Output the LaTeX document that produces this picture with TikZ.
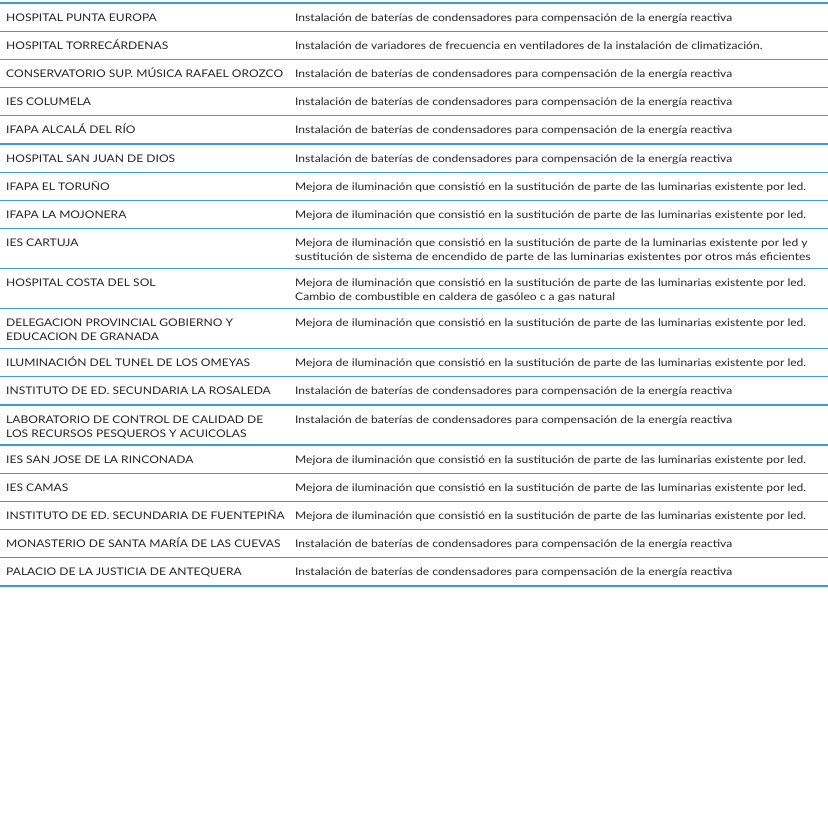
\documentclass[tikz,border=0pt]{standalone}
\usepackage{fontspec}
\setmainfont{Lato}[FakeStretch=1.15]
\definecolor{rule}{HTML}{3A9BD5}
\begin{document}
\begin{tikzpicture}[x=1pt,y=-1pt,
 ln/.style={draw=rule,line width=1.3pt},
 lc/.style={anchor=base west,inner sep=0,align=left,font=\fontsize{10.5}{14}\selectfont,text=black!85},
 rc/.style={anchor=base west,inner sep=0,align=left,font=\fontsize{10.5}{14}\selectfont,text=black!85}]
\useasboundingbox (0,0) rectangle (828,827);
\foreach \y [count=\i] in {3,31.2,59.4,87.6,115.8,144,172.2,200.4,228.6,268.6,308.6,348.6,376.8,405,445,473.2,501.4,529.6,557.8,586}
  {\coordinate (l\i) at (0,\y); \coordinate (r\i) at (828,\y); \draw[ln] (l\i) -- (r\i);}
% #1 id, #2 row top, #3 left offset, #4 left text, #5 right offset, #6 right text
\newcommand\rowx[6]{%
 \node[lc] (a#1) at (6,#2+#3) {#4};
 \node[rc] (b#1) at (295,#2+#5) {#6};}
\rowx{1}{3}{18}{HOSPITAL PUNTA EUROPA}{18}{Instalación de baterías de condensadores para compensación de la energía reactiva}
\rowx{2}{31.2}{18}{HOSPITAL TORRECÁRDENAS}{18}{Instalación de variadores de frecuencia en ventiladores de la instalación de climatización.}
\rowx{3}{59.4}{18}{CONSERVATORIO SUP. MÚSICA RAFAEL OROZCO}{18}{Instalación de baterías de condensadores para compensación de la energía reactiva}
\rowx{4}{87.6}{18}{IES COLUMELA}{18}{Instalación de baterías de condensadores para compensación de la energía reactiva}
\rowx{5}{115.8}{18}{IFAPA ALCALÁ DEL RÍO}{18}{Instalación de baterías de condensadores para compensación de la energía reactiva}
\rowx{6}{144}{18}{HOSPITAL SAN JUAN DE DIOS}{18}{Instalación de baterías de condensadores para compensación de la energía reactiva}
\rowx{7}{172.2}{18}{IFAPA EL TORUÑO}{18}{Mejora de iluminación que consistió en la sustitución de parte de las luminarias existente por led.}
\rowx{8}{200.4}{18}{IFAPA LA MOJONERA}{18}{Mejora de iluminación que consistió en la sustitución de parte de las luminarias existente por led.}
\rowx{9}{228.6}{18}{IES CARTUJA}{32}{Mejora de iluminación que consistió en la sustitución de parte de la luminarias existente por led y\\sustitución de sistema de encendido de parte de las luminarias existentes por otros más eficientes}
\rowx{10}{268.6}{18}{HOSPITAL COSTA DEL SOL}{32}{Mejora de iluminación que consistió en la sustitución de parte de las luminarias existente por led.\\Cambio de combustible en caldera de gasóleo c a gas natural}
\rowx{11}{308.6}{32}{DELEGACION PROVINCIAL GOBIERNO Y\\EDUCACION DE GRANADA}{18}{Mejora de iluminación que consistió en la sustitución de parte de las luminarias existente por led.}
\rowx{12}{348.6}{18}{ILUMINACIÓN DEL TUNEL DE LOS OMEYAS}{18}{Mejora de iluminación que consistió en la sustitución de parte de las luminarias existente por led.}
\rowx{13}{376.8}{18}{INSTITUTO DE ED. SECUNDARIA LA ROSALEDA}{18}{Instalación de baterías de condensadores para compensación de la energía reactiva}
\rowx{14}{405}{32}{LABORATORIO DE CONTROL DE CALIDAD DE\\LOS RECURSOS PESQUEROS Y ACUICOLAS}{18}{Instalación de baterías de condensadores para compensación de la energía reactiva}
\rowx{15}{445}{18}{IES SAN JOSE DE LA RINCONADA}{18}{Mejora de iluminación que consistió en la sustitución de parte de las luminarias existente por led.}
\rowx{16}{473.2}{18}{IES CAMAS}{18}{Mejora de iluminación que consistió en la sustitución de parte de las luminarias existente por led.}
\rowx{17}{501.4}{18}{INSTITUTO DE ED. SECUNDARIA DE FUENTEPIÑA}{18}{Mejora de iluminación que consistió en la sustitución de parte de las luminarias existente por led.}
\rowx{18}{529.6}{18}{MONASTERIO DE SANTA MARÍA DE LAS CUEVAS}{18}{Instalación de baterías de condensadores para compensación de la energía reactiva}
\rowx{19}{557.8}{18}{PALACIO DE LA JUSTICIA DE ANTEQUERA}{18}{Instalación de baterías de condensadores para compensación de la energía reactiva}
\end{tikzpicture}
\end{document}
